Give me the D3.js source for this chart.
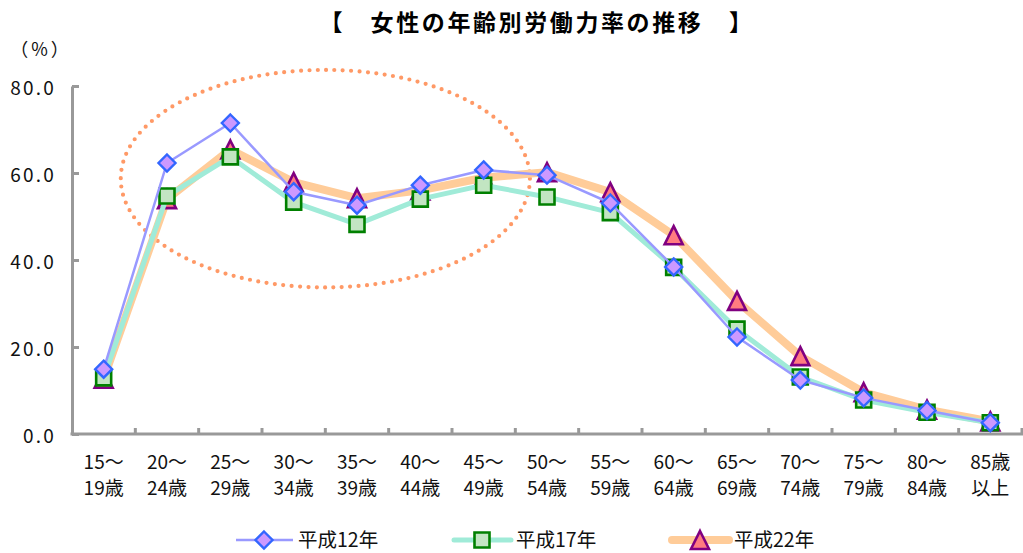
<!DOCTYPE html>
<html><head><meta charset="utf-8">
<script src="https://cdn.jsdelivr.net/npm/d3@7"></script>
<style>
html,body{margin:0;padding:0;background:#fff;}
svg{display:block;font-family:"Noto Sans CJK JP","Noto Sans",sans-serif;}
</style></head>
<body>
<svg id="chart" width="1023" height="553"></svg>
<script>
// ---- data ----
const categories = ["15～19歳","20～24歳","25～29歳","30～34歳","35～39歳","40～44歳","45～49歳","50～54歳","55～59歳","60～64歳","65～69歳","70～74歳","75～79歳","80～84歳","85歳以上"];
const labelLine1 = ["15～","20～","25～","30～","35～","40～","45～","50～","55～","60～","65～","70～","75～","80～","85歳"];
const labelLine2 = ["19歳","24歳","29歳","34歳","39歳","44歳","49歳","54歳","59歳","64歳","69歳","74歳","79歳","84歳","以上"];
const seriesNames = ["平成12年","平成17年","平成22年"];
const h12 = [14.9, 62.3, 71.5, 55.7, 52.6, 57.2, 60.7, 59.5, 53.1, 38.4, 22.3, 12.4, 8.3, 5.4, 2.6];
const h17 = [12.9, 54.7, 63.7, 53.3, 48.2, 54.0, 57.2, 54.5, 50.9, 38.3, 24.1, 13.1, 7.8, 5.0, 2.6];
const h22 = [12.7, 54.0, 65.4, 57.9, 54.2, 56.0, 58.9, 60.2, 55.6, 45.7, 30.6, 17.9, 9.6, 5.6, 2.9];
const yTicks = [0, 20, 40, 60, 80];
const titleText = "【　女性の年齢別労働力率の推移　】";
const unitText = "（%）";

// ---- layout ----
const svg = d3.select("#chart");
const x = d3.scaleBand().domain(categories).range([72, 1022]).padding(0);
const y = d3.scaleLinear().domain([0, 80]).range([434, 86]);
const cx = c => x(c) + x.bandwidth() / 2;

// title
svg.append("text").attr("x", 537).attr("y", 31).attr("text-anchor", "middle")
  .attr("font-size", 23).attr("font-weight", "bold").attr("letter-spacing", 2.6)
  .attr("fill", "#000").text(titleText);
svg.append("text").attr("x", 41).attr("y", 56).attr("text-anchor", "middle")
  .attr("font-size", 18).attr("letter-spacing", 3).attr("fill", "#111").text(unitText);

// axes
const yAxis = d3.axisLeft(y).tickValues(yTicks).tickSize(-7).tickSizeOuter(0).tickPadding(16)
  .tickFormat(d3.format(".1f"));
const gy = svg.append("g").attr("transform", "translate(72,0)").call(yAxis);
gy.select(".domain").attr("stroke", "#999").attr("stroke-width", 3);
gy.selectAll(".tick line").attr("stroke", "#999").attr("stroke-width", 3);
gy.selectAll(".tick text").attr("font-size", 19).attr("fill", "#111")
  .attr("letter-spacing", 2.2).attr("dy", "0.45em")
  .attr("font-family", '"Noto Sans CJK JP","Noto Sans",sans-serif');

// x axis line and boundary ticks
const gx = svg.append("g");
gx.append("line").attr("x1", 70.5).attr("x2", 1023).attr("y1", y(0)).attr("y2", y(0))
  .attr("stroke", "#999").attr("stroke-width", 3);
const bounds = categories.slice(1).map(c => x(c)).concat([x.range()[1]]);
gx.selectAll("line.tk").data(bounds).join("line").attr("class", "tk")
  .attr("x1", d => d).attr("x2", d => d).attr("y1", y(0)).attr("y2", y(0) - 6)
  .attr("stroke", "#999").attr("stroke-width", 3);

// x labels
const xl = svg.append("g").attr("font-size", 19).attr("fill", "#111").attr("text-anchor", "middle");
categories.forEach((c, i) => {
  const t = xl.append("text").attr("x", cx(c));
  t.append("tspan").attr("x", cx(c)).attr("y", 469).text(labelLine1[i]);
  t.append("tspan").attr("x", cx(c)).attr("y", 495).text(labelLine2[i]);
});

// dotted ellipse annotation
const ex = x(categories[4]);
const eRx = x.bandwidth() * 3.23;
const ecy = y(58.7);
const eRy = y(0) - y(25);
svg.append("ellipse").attr("cx", ex).attr("cy", ecy).attr("rx", eRx).attr("ry", eRy)
  .attr("fill", "none").attr("stroke", "#FF9966").attr("stroke-width", 4.2)
  .attr("stroke-linecap", "round").attr("stroke-dasharray", "0 8.4");

// series
const series = [
  {name: seriesNames[2], values: h22, line: "#FFCC99", lw: 8, shape: "tri", fill: "#FF7C80", stroke: "#800080"},
  {name: seriesNames[1], values: h17, line: "#A0EBD8", lw: 5, shape: "sq", fill: "#C2E5C2", stroke: "#008000"},
  {name: seriesNames[0], values: h12, line: "#9999FF", lw: 2.5, shape: "dia", fill: "#CC99FF", stroke: "#3366FF"}
];
function markerPath(shape) {
  if (shape === "tri") return "M0,-9L9,9L-9,9Z";
  if (shape === "sq") return "M-7.5,-7.5H7.5V7.5H-7.5Z";
  return "M0,-8.5L8.5,0L0,8.5L-8.5,0Z";
}
function markerStroke(shape) { return shape === "dia" ? 2.4 : 2.6; }

const lineGen = d3.line().x((d, i) => cx(categories[i])).y(d => y(d));
series.forEach(s => {
  const g = svg.append("g");
  g.append("path").attr("d", lineGen(s.values)).attr("fill", "none")
    .attr("stroke", s.line).attr("stroke-width", s.lw).attr("stroke-linejoin", "round");
  g.selectAll("path.m").data(s.values).join("path").attr("class", "m")
    .attr("transform", (d, i) => `translate(${cx(categories[i])},${y(d)})`)
    .attr("d", markerPath(s.shape)).attr("fill", s.fill).attr("stroke", s.stroke)
    .attr("stroke-width", markerStroke(s.shape)).attr("stroke-linejoin", "miter");
});

// legend
const legendOrder = [series[2], series[1], series[0]];
const lg = svg.append("g");
legendOrder.forEach((s, i) => {
  const x0 = 236 + i * 218;
  const yy = 540;
  lg.append("line").attr("x1", x0).attr("x2", x0 + 57).attr("y1", yy).attr("y2", yy)
    .attr("stroke", s.line).attr("stroke-width", s.lw).attr("stroke-linecap", i === 0 ? "butt" : "round");
  lg.append("path").attr("transform", `translate(${x0 + 28},${yy})`).attr("d", markerPath(s.shape))
    .attr("fill", s.fill).attr("stroke", s.stroke).attr("stroke-width", markerStroke(s.shape));
  lg.append("text").attr("x", x0 + 62).attr("y", yy + 6.5).attr("font-size", 19.5).attr("fill", "#111").text(s.name);
});
</script>
</body></html>
